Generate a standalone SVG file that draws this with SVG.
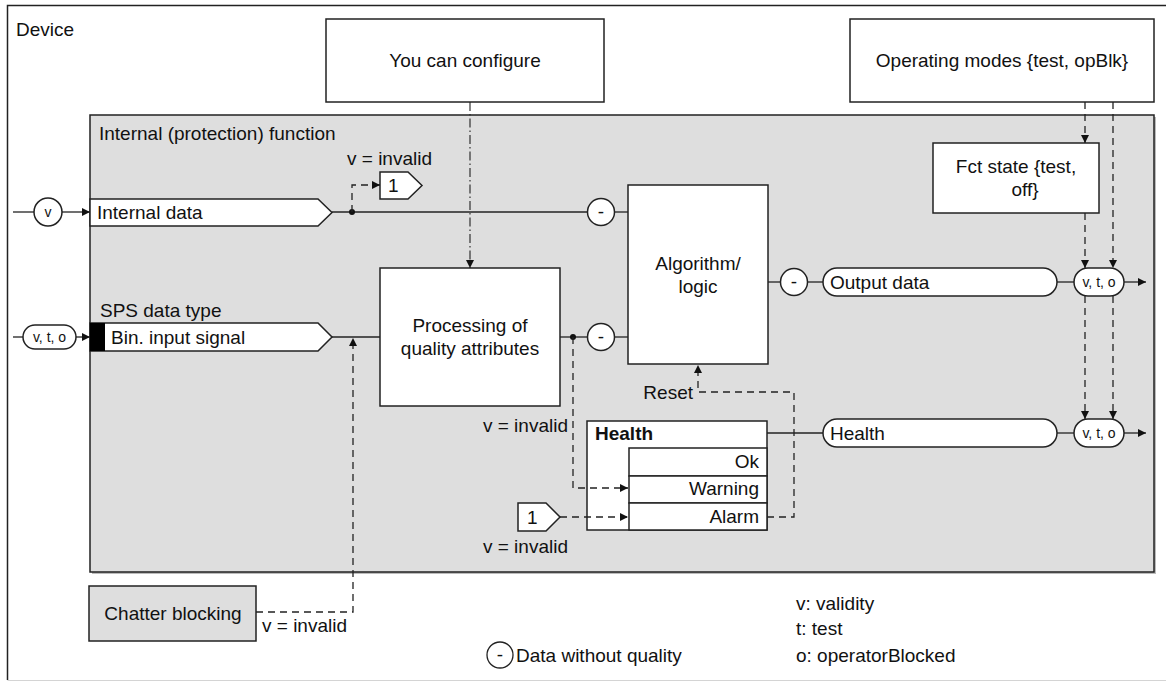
<svg xmlns="http://www.w3.org/2000/svg" width="1166" height="682" viewBox="0 0 1166 682">
<defs>
<style>
text{font-family:"Liberation Sans",Arial,sans-serif;font-size:19px;fill:#111}
.sm{font-size:14px}
.b{stroke:#222;stroke-width:1.5;fill:#fff}
.g{stroke:#222;stroke-width:1.5;fill:#dedede}
.ln{stroke:#222;stroke-width:1.3;fill:none}
.ds{stroke:#222;stroke-width:1.3;fill:none;stroke-dasharray:7,5}
.dd{stroke:#222;stroke-width:1.1;fill:none;stroke-dasharray:9,3,1.5,3}
.m{text-anchor:middle}
.e{text-anchor:end}
</style>
<marker id="a" viewBox="0 0 10 10" refX="10" refY="5" markerWidth="9" markerHeight="8" markerUnits="userSpaceOnUse" orient="auto">
<path d="M0,0L10,5L0,10z" fill="#111"/>
</marker>
</defs>

<g id="device">
<path d="M1170,5.5H7.5V680" stroke="#222" stroke-width="1.5" fill="none"/>
<path d="M7.5,680.5H1170" stroke="#d4d4d4" stroke-width="1.2" fill="none"/>
<text x="16" y="36">Device</text>
</g>

<g id="internal-function">
<rect x="92" y="117" width="1064" height="457" fill="#bbb"/>
<rect class="g" x="90" y="115" width="1064" height="457"/>
<text x="99" y="140">Internal (protection) function</text>
</g>

<g id="you-can-configure">
<rect class="b" x="326" y="19" width="278" height="83"/>
<text class="m" x="465" y="67">You can configure</text>
</g>

<g id="operating-modes">
<rect class="b" x="850" y="19" width="304" height="83"/>
<text class="m" x="1002" y="67">Operating modes {test, opBlk}</text>
</g>

<g id="fct-state">
<rect class="b" x="933" y="143" width="166" height="70"/>
<text class="m" x="1016" y="173">Fct state {test,</text>
<text class="m" x="1025" y="196">off}</text>
</g>

<g id="internal-data">
<path class="b" d="M90,199H318L332,212.5L318,226H90Z"/>
<text x="97" y="219">Internal data</text>
</g>

<g id="bin-input">
<path class="b" d="M90,323H318L332,337L318,351H90Z"/>
<rect x="90" y="323" width="15" height="28" fill="#000"/>
<text x="111" y="344">Bin. input signal</text>
<text x="100" y="317">SPS data type</text>
</g>

<g id="in-v">
<circle class="b" cx="48" cy="212" r="14"/>
<text class="m sm" x="48" y="217">v</text>
</g>

<g id="in-vto">
<rect class="b" x="23" y="325" width="53" height="24" rx="12"/>
<text class="m sm" x="49.5" y="342">v, t, o</text>
</g>

<g id="one-top">
<path class="b" d="M380,172H408L422,185.5L408,199H380Z"/>
<text x="388" y="192">1</text>
<text x="347" y="165">v = invalid</text>
</g>

<g id="processing">
<rect class="b" x="380" y="268" width="180" height="138"/>
<text class="m" x="470" y="332">Processing of</text>
<text class="m" x="470" y="355">quality attributes</text>
</g>

<g id="minus-top">
<circle class="b" cx="601" cy="212" r="13.5"/>
<text class="m" x="601" y="218">-</text>
</g>
<g id="minus-mid">
<circle class="b" cx="601" cy="337" r="13.5"/>
<text class="m" x="601" y="343">-</text>
</g>
<g id="minus-out">
<circle class="b" cx="794" cy="282" r="13.5"/>
<text class="m" x="794" y="288">-</text>
</g>

<g id="algorithm">
<rect class="b" x="628" y="185" width="140" height="179"/>
<text class="m" x="698" y="270">Algorithm/</text>
<text class="m" x="698" y="293">logic</text>
<text class="e" x="693" y="399">Reset</text>
</g>

<g id="output-data">
<rect class="b" x="823" y="268" width="234" height="28" rx="14"/>
<text x="830" y="289">Output data</text>
</g>
<g id="out-vto">
<rect class="b" x="1074" y="268" width="50" height="28" rx="14"/>
<text class="m sm" x="1099" y="287">v, t, o</text>
</g>

<g id="health-pill">
<rect class="b" x="823" y="419" width="234" height="28" rx="14"/>
<text x="830" y="440">Health</text>
</g>
<g id="health-vto">
<rect class="b" x="1074" y="419" width="50" height="28" rx="14"/>
<text class="m sm" x="1099" y="438">v, t, o</text>
</g>

<g id="health-box">
<rect class="b" x="587" y="421" width="180" height="109"/>
<rect class="b" x="629" y="448" width="138" height="28"/>
<rect class="b" x="629" y="476" width="138" height="27"/>
<rect class="b" x="629" y="503" width="138" height="27"/>
<text x="595" y="440" font-weight="bold">Health</text>
<text class="e" x="759" y="468">Ok</text>
<text class="e" x="759" y="495">Warning</text>
<text class="e" x="759" y="523">Alarm</text>
</g>

<g id="one-bottom">
<path class="b" d="M518,503H546L560,517L546,531H518Z"/>
<text x="527" y="524">1</text>
<text class="e" x="568" y="432">v = invalid</text>
<text class="e" x="568" y="553">v = invalid</text>
</g>

<g id="chatter">
<rect class="g" x="89" y="586" width="167" height="55"/>
<text class="m" x="173" y="620">Chatter blocking</text>
<text x="262" y="632">v = invalid</text>
</g>

<g id="legend">
<circle fill="#fff" stroke="#222" stroke-width="1.3" cx="500" cy="655" r="13"/>
<text class="m" x="500" y="661">-</text>
<text x="516" y="662">Data without quality</text>
<text x="796" y="610">v: validity</text>
<text x="796" y="635">t: test</text>
<text x="796" y="662">o: operatorBlocked</text>
</g>

<g id="connectors">
<path class="ln" d="M13,212H34"/>
<path class="ln" d="M62,212H90" marker-end="url(#a)"/>
<path class="ln" d="M13,337H23"/>
<path class="ln" d="M76,337H90" marker-end="url(#a)"/>
<path class="ln" d="M332,212H587"/>
<path class="ln" d="M615,212H628"/>
<path class="ln" d="M332,337H380"/>
<path class="ln" d="M560,337H587"/>
<path class="ln" d="M615,337H628"/>
<path class="ln" d="M768,282H780"/>
<path class="ln" d="M808,282H823"/>
<path class="ln" d="M1057,282H1074"/>
<path class="ln" d="M1124,282H1146" marker-end="url(#a)"/>
<path class="ln" d="M767,433H823"/>
<path class="ln" d="M1057,433H1074"/>
<path class="ln" d="M1124,433H1146" marker-end="url(#a)"/>
<circle cx="352" cy="212" r="3" fill="#111"/>
<circle cx="573" cy="337" r="3" fill="#111"/>
<path class="ds" d="M352,212V185H380" marker-end="url(#a)"/>
<path class="ds" d="M573,337V488H628" marker-end="url(#a)"/>
<path class="ds" d="M560,517H628" marker-end="url(#a)"/>
<path class="ds" d="M767,517H794V392H698V365" marker-end="url(#a)"/>
<path class="ds" d="M256,612H353V338" marker-end="url(#a)"/>
<path class="dd" d="M470,102V268" marker-end="url(#a)"/>
<path class="ds" d="M1085,102V143" marker-end="url(#a)"/>
<path class="ds" d="M1085,213V268" marker-end="url(#a)"/>
<path class="ds" d="M1113,102V268" marker-end="url(#a)"/>
<path class="ds" d="M1085,296V419" marker-end="url(#a)"/>
<path class="ds" d="M1113,296V419" marker-end="url(#a)"/>
</g>
</svg>
